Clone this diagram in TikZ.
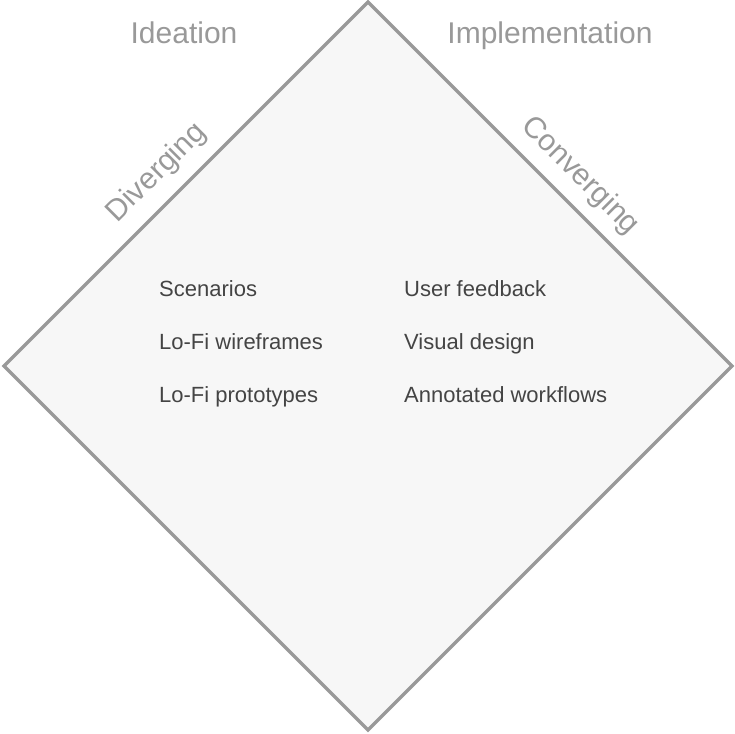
\documentclass[tikz,border=0pt]{standalone}
\usepackage{fontspec}
\setmainfont{Liberation Sans}
\usetikzlibrary{positioning}
\definecolor{edgegray}{HTML}{999999}
\definecolor{fillgray}{HTML}{F7F7F7}
\definecolor{textdark}{HTML}{444444}
\begin{document}
\begin{tikzpicture}[x=1pt,y=-1pt,
    phase/.style={text=edgegray,font=\fontsize{30}{34}\selectfont},
    item/.style={text=textdark,font=\fontsize{22}{26}\selectfont,anchor=base west,inner sep=0pt}]
    \useasboundingbox (0,0) rectangle (734,734);
    % Diamond
    \draw[edgegray,line width=3.5pt,fill=fillgray,line join=miter]
        (4,366) -- (368,2) -- (732,366) -- (368,730) -- cycle;

    % Phases
    \node[phase,anchor=base] (ideation) at (184,43) {Ideation};
    \node[phase,anchor=base] (implementation) at (550,43) {Implementation};
    \node[phase,rotate=45] (diverging) at (157,173) {Diverging};
    \node[phase,rotate=-45] (converging) at (580,176) {Converging};

    % Items
    \node[item] (scenarios) at (159,296) {Scenarios};
    \node[item] (wireframes) at (159,349) {Lo-Fi wireframes};
    \node[item] (prototypes) at (159,402) {Lo-Fi prototypes};
    \node[item] (feedback) at (404,296) {User feedback};
    \node[item] (visual) at (404,349) {Visual design};
    \node[item] (workflows) at (404,402) {Annotated workflows};
\end{tikzpicture}
\end{document}
